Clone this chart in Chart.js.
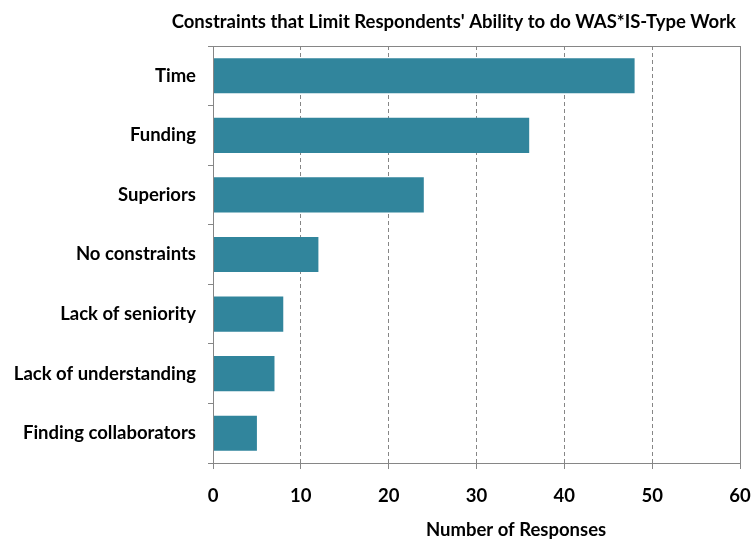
<!DOCTYPE html>
<html>
<head>
<meta charset="utf-8">
<script src="https://cdn.jsdelivr.net/npm/chart.js@4"></script>
<style>
  html, body { margin: 0; padding: 0; background: #ffffff; }
  #wrap { width: 751px; height: 540px; }
</style>
</head>
<body>
<div id="wrap"><canvas id="c" width="751" height="540"></canvas></div>
<script>
const categories = ["Time", "Funding", "Superiors", "No constraints", "Lack of seniority", "Lack of understanding", "Finding collaborators"];
const responses = [48, 36, 24, 12, 8, 7, 5];
const xTicks = [0, 10, 20, 30, 40, 50, 60];
const chartTitle = "Constraints that Limit Respondents' Ability to do WAS*IS-Type Work";
const xAxisTitle = "Number of Responses";

const FONT = "Lato, 'Open Sans', sans-serif";
const AXIS_GRAY = "#868686";

const frame = {
  id: 'frame',
  afterDraw(chart) {
    const { ctx, chartArea: a } = chart;
    ctx.save();
    ctx.strokeStyle = AXIS_GRAY;
    ctx.lineWidth = 1;
    ctx.strokeRect(Math.round(a.left) + 0.5, Math.round(a.top) + 0.5, Math.round(a.right - a.left), Math.round(a.bottom - a.top));
    ctx.fillStyle = '#000';
    ctx.textAlign = 'center';
    ctx.textBaseline = 'middle';
    ctx.font = "bold 18.5px " + FONT;
    ctx.fillText(xAxisTitle, a.left + (a.right - a.left) * 0.575, 530);
    ctx.font = "bold 18.5px " + FONT;
    ctx.fillText(chartTitle, a.left + (a.right - a.left) * 0.457, 22);
    ctx.restore();
  }
};

new Chart(document.getElementById('c'), {
  type: 'bar',
  data: {
    labels: categories,
    datasets: [{
      data: responses,
      backgroundColor: '#31859C',
      borderWidth: 0,
      barPercentage: 0.59,
      categoryPercentage: 1.0
    }]
  },
  options: {
    indexAxis: 'y',
    responsive: false,
    animation: false,
    layout: { padding: { left: 0, right: 11, top: 46, bottom: 0 } },
    plugins: {
      legend: { display: false },
      tooltip: { enabled: false },
      title: { display: false }
    },
    scales: {
      x: {
        min: 0, max: 60,
        afterBuildTicks(s) { s.ticks = xTicks.map(v => ({ value: v })); },
        afterFit(s) { s.height = 77; s.paddingLeft = 0; s.paddingRight = 0; },
        ticks: {
          color: '#000',
          font: { family: FONT, size: 18.5, weight: 'bold' },
          padding: 16
        },
        grid: {
          color: AXIS_GRAY,
          lineWidth: 1,
          tickLength: 6,
          drawTicks: true
        },
        border: { display: true, color: AXIS_GRAY, dash: [4, 3] }
      },
      y: {
        afterFit(s) { s.width = 213; s.paddingTop = 0; s.paddingBottom = 0; },
        ticks: {
          color: '#000',
          font: { family: FONT, size: 18.5, weight: 'bold' },
          padding: 12
        },
        grid: {
          offset: true,
          drawOnChartArea: false,
          color: AXIS_GRAY,
          tickLength: 5
        },
        border: { display: true, color: AXIS_GRAY }
      }
    }
  },
  plugins: [frame]
});
</script>
</body>
</html>
